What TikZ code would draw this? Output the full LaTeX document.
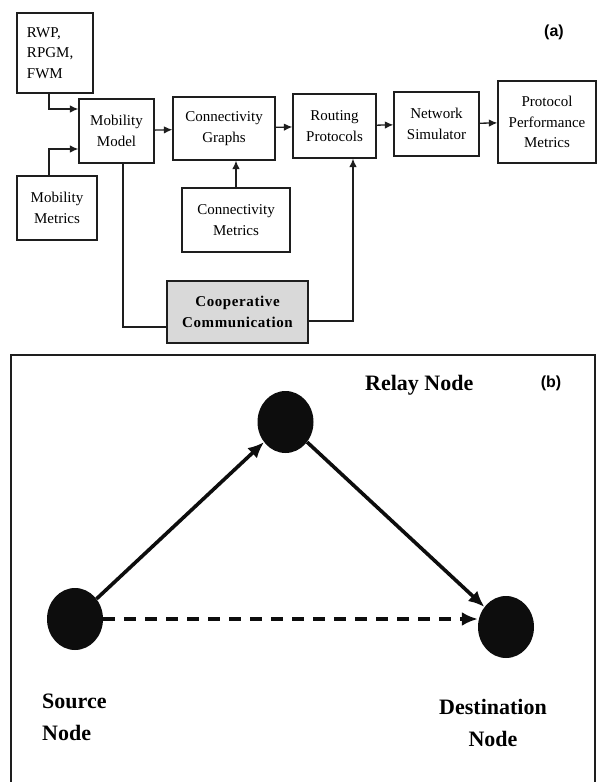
\documentclass[tikz,border=0pt]{standalone}
\usepackage{fontspec}
\setmainfont{Liberation Serif}
\newfontfamily\tagfont{Liberation Sans}
\usepackage{xcolor}
\definecolor{Col1}{RGB}{30,30,30}
\definecolor{Col2}{RGB}{217,217,217}
\usetikzlibrary{shapes.geometric}
\usetikzlibrary{arrows.meta}
\tikzstyle{Box}=[draw=Col1,line width=1.2pt,align=center,inner sep=2pt,
font=\fontsize{15}{20.5}\selectfont]
\tikzstyle{Flow}=[draw=Col1,line width=1.3pt,-{Latex[length=8.5pt,width=7.5pt]}]
\tikzstyle{Wire}=[draw=Col1,line width=1.3pt]
\tikzstyle{Dot}=[ellipse,fill=black!95,minimum width=56pt,minimum height=62pt,
inner sep=0pt]
\tikzstyle{Link}=[draw=black!95,line width=3.6pt,-{Latex[length=16pt,width=14pt]}]
\tikzstyle{NodeLab}=[inner sep=0pt,font=\bfseries\fontsize{22}{32}\selectfont]
\tikzstyle{Tag}=[font=\tagfont\bfseries\fontsize{16}{16}\selectfont]

\begin{document}
\begin{tikzpicture}[x=1pt,y=-1pt]
    \useasboundingbox(0,0)rectangle(598,782);
    % (a)
    \node[Box,minimum height=80pt,align=left,text width=56pt,inner xsep=10pt](rwp)at(55,53){RWP,\\RPGM,\\FWM};
    \node[Box,minimum width=75pt,minimum height=64pt](mm)at(116.5,131){Mobility\\Model};
    \node[Box,minimum width=80pt,minimum height=64pt](mmet)at(57,208){Mobility\\Metrics};
    \node[Box,minimum width=102pt,minimum height=63pt](cg)at(224,128.5){Connectivity\\Graphs};
    \node[Box,minimum width=108pt,minimum height=64pt](cmet)at(236,220){Connectivity\\Metrics};
    \node[Box,minimum width=83pt,minimum height=64pt](rp)at(334.5,126){Routing\\Protocols};
    \node[Box,minimum width=85pt,minimum height=64pt](ns)at(436.5,124){Network\\Simulator};
    \node[Box,minimum width=98pt,minimum height=82pt](ppm)at(547,122){Protocol\\Performance\\Metrics};
    \node[Box,fill=Col2,minimum width=141pt,minimum height=62pt,
        font=\bfseries\fontsize{15}{21}\selectfont\addfontfeatures{LetterSpace=4}](cc)at(237.5,312){Cooperative\\Communication};
    \node[Tag](a)at(554,32){(a)};
    \draw[Flow]([xshift=-6pt]rwp.south)|-([yshift=22pt]mm.west);
    \draw[Flow]([xshift=-8pt]mmet.north)|-([yshift=-18pt]mm.west);
    \draw[Flow](mm)--(cg);
    \draw[Flow](cg)--(rp);
    \draw[Flow](rp)--(ns);
    \draw[Flow](ns)--(ppm);
    \draw[Flow](cmet.north)--(cmet.north|-cg.south);
    \draw[Wire]([xshift=6.5pt]mm.south)|-([yshift=-15pt]cc.west);
    \draw[Flow]([yshift=-9pt]cc.east)-|([xshift=18.5pt]rp.south);
    % (b)
    \draw[Col1,line width=2pt](11,790)|-(595,355)--(595,790);
    \node[Dot](src)at(75,619){};
    \node[Dot](rly)at(285.5,422){};
    \node[Dot](dst)at(506,627){};
    \draw[Link](src)--(rly);
    \draw[Link](rly)--(dst);
    \draw[Link,dash pattern=on 12pt off 9pt](src.east)--(src.east-|dst.west);
    \node[NodeLab,anchor=base west](rlab)at(365,390){Relay Node};
    \node[NodeLab,anchor=west,align=left](slab)at(42,717){Source\\Node};
    \node[NodeLab,align=center](dlab)at(493,722.5){Destination\\Node};
    \node[Tag](b)at(551,383){(b)};
\end{tikzpicture}
\end{document}
